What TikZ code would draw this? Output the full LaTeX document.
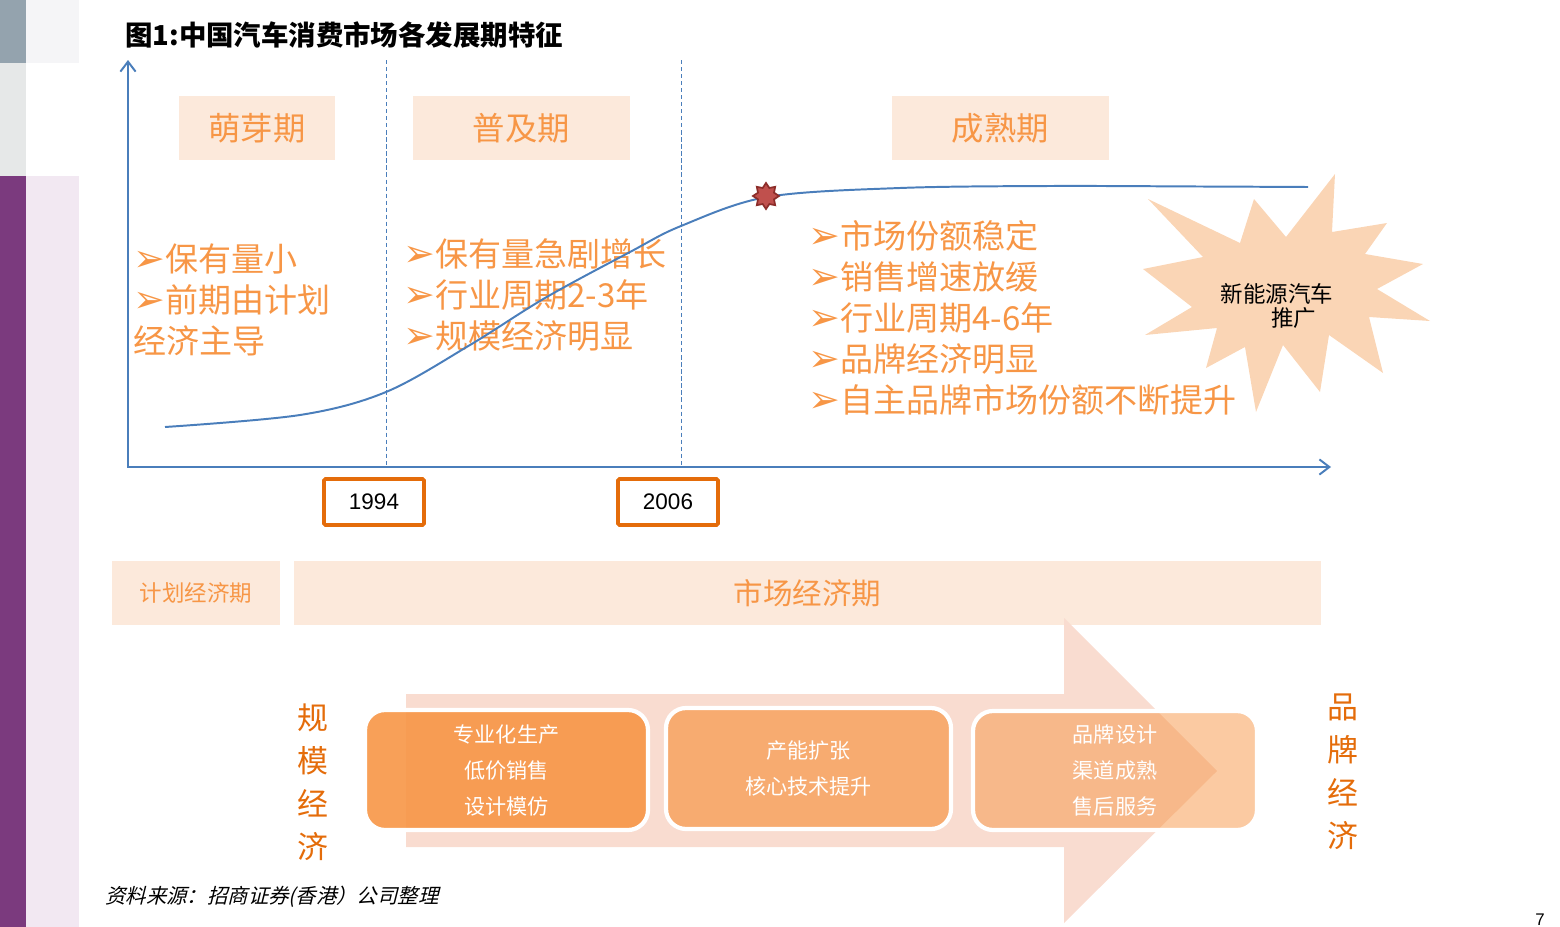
\documentclass[tikz,border=0pt]{standalone}
\usepackage{fontspec}
\setmainfont{Noto Sans CJK SC}
\newfontfamily\tipfont{DejaVu Sans}
\newfontfamily\yearfont{Liberation Sans}
\newfontfamily\notefont[FakeSlant=0.25]{Noto Sans CJK SC}
\usetikzlibrary{arrows.meta,shapes.geometric}
\definecolor{axisblue}{RGB}{74,126,187}
\definecolor{softorange}{RGB}{247,150,70}
\definecolor{deeporange}{RGB}{228,108,10}
\definecolor{paleband}{RGB}{252,233,219}
\definecolor{arrowpink}{RGB}{249,220,208}
\definecolor{burstpeach}{RGB}{250,213,181}
\definecolor{markred}{RGB}{192,80,77}
\definecolor{markedge}{RGB}{140,45,42}
\definecolor{stripgray}{RGB}{148,163,174}
\definecolor{stripsilver}{RGB}{230,232,232}
\definecolor{strippurple}{RGB}{123,58,126}
\definecolor{stripmist}{RGB}{245,245,247}
\definecolor{striplilac}{RGB}{242,232,242}
\newcommand\tip{{\tipfont\fontsize{27}{28}\selectfont ➢}}
\def\pu{0.025cm}
\begin{document}
\begin{tikzpicture}[x=0.025cm,y=-0.025cm,
  axis/.style={axisblue,line width=1.4pt},
  erasplit/.style={axisblue,line width=0.7pt,dash pattern=on 3pt off 2pt},
  phasebox/.style={fill=paleband,text=softorange,minimum height=64*\pu,
    font=\fontsize{23}{25}\selectfont},
  bullets/.style={text=softorange,anchor=west,align=left,inner sep=0pt,
    font=\fontsize{23.5}{29.2}\selectfont},
  yearbox/.style={draw=deeporange,line width=2.5pt,rounded corners=1pt,
    minimum width=100*\pu,minimum height=46*\pu,
    font=\yearfont\fontsize{16}{18}\selectfont},
  stagebox/.style={rounded corners=0.5cm,draw=white,line width=3pt,
    fill=softorange,text=white,text opacity=1,align=center,
    font=\fontsize{15}{25.6}\selectfont},
  sidelabel/.style={text=deeporange,align=center,
    font=\fontsize{22}{30.6}\selectfont}]
\useasboundingbox (0,0) rectangle (1560,927);
\fill[stripgray] (0,0) rectangle (26,63);
\fill[stripsilver] (0,63) rectangle (26,176);
\fill[strippurple] (0,176) rectangle (26,927);
\fill[stripmist] (26,0) rectangle (79,63);
\fill[striplilac] (26,176) rectangle (79,927);

\node[anchor=west,inner sep=0pt,font=\bfseries\fontsize{19.5}{21}\selectfont]
  (title) at (125,35) {图1:中国汽车消费市场各发展期特征};

\coordinate (origin) at (128,467);
\coordinate (ytop) at (128,60);
\coordinate (xend) at (1331,467);
\draw[axis,{Straight Barb[length=0.25cm,width=0.38cm]}-{Straight Barb[length=0.25cm,width=0.38cm]}]
  (ytop) -- (origin) -- (xend);
\draw[erasplit] (386,60) -- (386,467);
\draw[erasplit] (681,60) -- (681,467);

\node[phasebox,minimum width=156*\pu] (bud) at (257,128) {萌芽期};
\node[phasebox,minimum width=217*\pu] (spread) at (521.5,128) {普及期};
\node[phasebox,minimum width=217*\pu] (mature) at (1000.5,128) {成熟期};

\fill[burstpeach] (1335,174) -- (1332,232) -- (1387,223) -- (1365,254)
  -- (1423,264) -- (1377,289) -- (1430,321) -- (1369,317) -- (1383,373)
  -- (1329,335) -- (1320,392) -- (1283,345) -- (1256,412) -- (1245,347)
  -- (1206,368) -- (1217,328) -- (1145,335) -- (1192,307) -- (1143,269)
  -- (1203,257) -- (1148,199) -- (1240,243) -- (1254,199) -- (1286,237)
  -- cycle;
\node[align=center,inner sep=0pt,font=\fontsize{16}{17}\selectfont]
  (newenergy) at (1277,306) {新能源汽车\\\hspace*{1.5em}推广};

\node[bullets] (budnotes) at (133,300)
  {\tip 保有量小\\\tip 前期由计划\\经济主导};
\node[bullets] (spreadnotes) at (403,295)
  {\tip 保有量急剧增长\\\tip 行业周期2-3年\\\tip 规模经济明显};
\node[bullets] (maturenotes) at (808,318)
  {\tip 市场份额稳定\\\tip 销售增速放缓\\\tip 行业周期4-6年\\\tip 品牌经济明显\\\tip 自主品牌市场份额不断提升};

\draw[axisblue,line width=1.4pt] plot[smooth,tension=0.55] coordinates
  {(165,427) (300,415) (386,392) (470,345) (545,298) (630,252) (681,226)
   (767,197) (900,188) (1050,186) (1200,186.5) (1308,187)};
\node[star,star points=8,star point ratio=1.5,fill=markred,draw=markedge,
  line width=1.2pt,minimum size=26*\pu,inner sep=0pt] (peak) at (766,196) {};

\node[yearbox] (y1994) at (374,502) {1994};
\node[yearbox] (y2006) at (668,502) {2006};

\node[fill=paleband,text=softorange,minimum width=168*\pu,minimum height=64*\pu,
  font=\fontsize{16}{18}\selectfont] (planned) at (196,593) {计划经济期};
\node[fill=paleband,text=softorange,minimum width=1027*\pu,minimum height=64*\pu,
  font=\fontsize{21}{23}\selectfont] (market) at (807.5,593) {市场经济期};

\fill[arrowpink] (406,694) -- (1064,694) -- (1064,618) -- (1217,771)
  -- (1064,923) -- (1064,847) -- (406,847) -- cycle;

\node[stagebox,fill opacity=0.9,minimum width=283*\pu,minimum height=120*\pu]
  (scale) at (506.5,770) {专业化生产\\低价销售\\设计模仿};
\node[stagebox,fill opacity=0.69,minimum width=285*\pu,minimum height=121*\pu]
  (capacity) at (808.5,768.5) {产能扩张\\核心技术提升};
\node[stagebox,fill opacity=0.5,minimum width=284*\pu,minimum height=119*\pu]
  (brand) at (1115,770.5) {品牌设计\\渠道成熟\\售后服务};

\node[sidelabel] (scaleeco) at (313,782.5) {规\\模\\经\\济};
\node[sidelabel] (brandeco) at (1343,771.5) {品\\牌\\经\\济};

\node[anchor=west,inner sep=0pt,font=\notefont\fontsize{14.5}{16}\selectfont]
  (source) at (105,897) {资料来源：招商证券(香港）公司整理};
\node[anchor=base,inner sep=0pt,font=\yearfont\fontsize{12}{13}\selectfont]
  (pageno) at (1540,925) {7};
\end{tikzpicture}
\end{document}
